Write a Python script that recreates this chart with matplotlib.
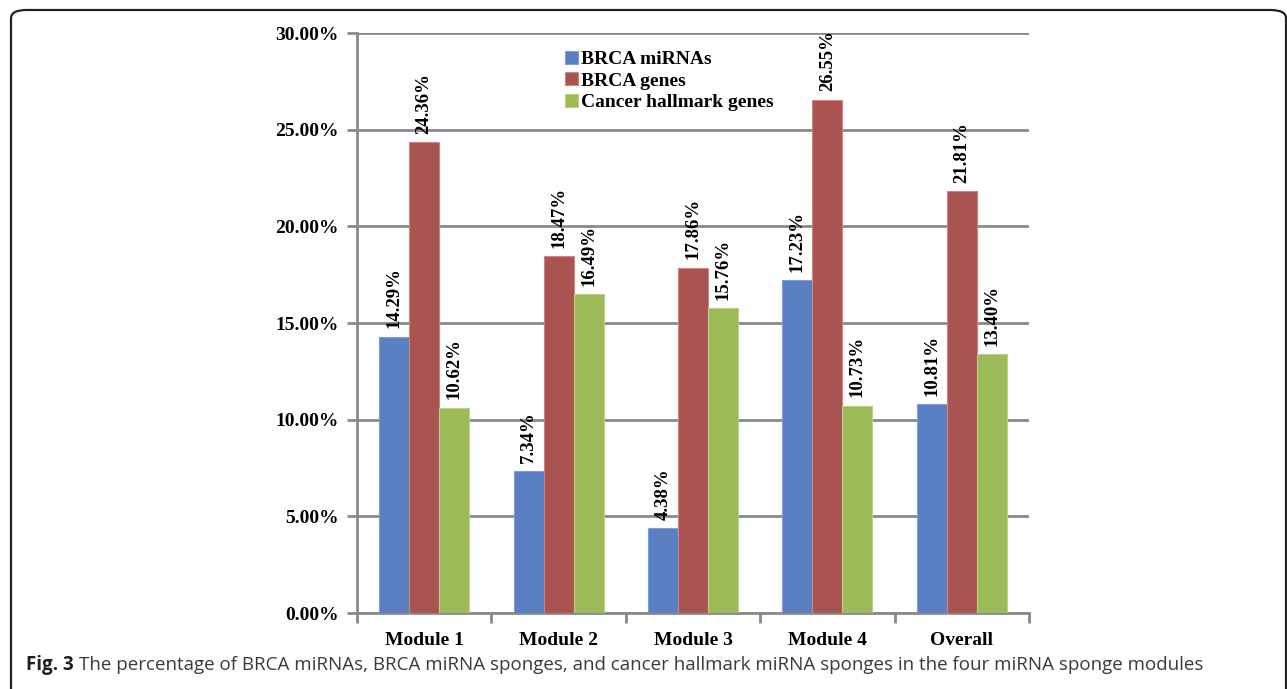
import numpy as np
import matplotlib.pyplot as plt
from matplotlib.patches import FancyBboxPatch
from matplotlib.ticker import FixedLocator, PercentFormatter

# percentages per module
modules = ["Module 1", "Module 2", "Module 3", "Module 4", "Overall"]
brca_mirnas = [14.29, 7.34, 4.38, 17.23, 10.81]
brca_genes = [24.36, 18.47, 17.86, 26.55, 21.81]
hallmark_genes = [10.62, 16.49, 15.76, 10.73, 13.40]
series_names = ["BRCA miRNAs", "BRCA genes", "Cancer hallmark genes"]
colors = ["#5B80C2", "#AA5452", "#9DBA59"]
edges = ["#7f9dd3", "#c98684", "#b9d183"]

serif = "Liberation Serif"
grid_col = "#8a8a8a"

fig = plt.figure(figsize=(12.87, 6.89), dpi=100)
ax = fig.add_axes([0.2774, 0.1103, 0.5221, 0.8418])

x = np.arange(len(modules))
w = 0.223
for k, (vals, name, c, ec) in enumerate(zip([brca_mirnas, brca_genes, hallmark_genes],
                                             series_names, colors, edges)):
    bars = ax.bar(x + (k - 1) * w, vals, w, color=c, edgecolor=ec, linewidth=0.8,
                  label=name, zorder=3)
    for b, v in zip(bars, vals):
        ax.annotate("%.2f%%" % v, (b.get_x() + b.get_width() / 2, v),
                    xytext=(0, 6), textcoords="offset points",
                    rotation=90, ha="center", va="bottom",
                    fontsize=13.5, fontweight="bold", family=serif, zorder=4)

ax.set_xlim(-0.5, len(modules) - 0.5)
ax.set_ylim(0, 30)
ax.set_yticks(np.arange(0, 31, 5))
ax.yaxis.set_major_formatter(PercentFormatter(decimals=2))
ax.grid(axis="y", color=grid_col, linewidth=2, zorder=0)

ax.set_xticks(x)
ax.set_xticklabels(modules)
ax.xaxis.set_minor_locator(FixedLocator(np.arange(-0.5, len(modules), 1)))
ax.tick_params(axis="x", which="major", length=0, pad=14)
ax.tick_params(axis="x", which="minor", length=7, width=2, color=grid_col)
ax.tick_params(axis="y", length=7, width=2, color=grid_col, pad=6)
for lab in ax.get_xticklabels() + ax.get_yticklabels():
    lab.set_family(serif)
    lab.set_fontweight("bold")
    lab.set_fontsize(14)

for s in ["top", "right"]:
    ax.spines[s].set_visible(False)
for s in ["left", "bottom"]:
    ax.spines[s].set_color(grid_col)
    ax.spines[s].set_linewidth(2)

leg = ax.legend(loc="upper left", bbox_to_anchor=(0.298, 0.983), frameon=False,
                handlelength=0.65, handleheight=0.65, handletextpad=0.15,
                labelspacing=0.22, borderaxespad=0,
                prop={"family": serif, "weight": "bold", "size": 14})

# rounded frame around the figure
frame = FancyBboxPatch((11 / 1287, -0.02), (1286 - 11) / 1287, 1.02 - 10 / 689,
                       boxstyle="round,pad=0,rounding_size=0.012",
                       transform=fig.transFigure, fill=False,
                       edgecolor="#222222", linewidth=1.6, clip_on=False)
fig.patches.append(frame)

# caption
cap_y = 1 - 670 / 689
t1 = fig.text(26 / 1287, cap_y, "Fig. 3", family="Open Sans", fontweight="bold",
              fontsize=13.5, color="#231f20", va="baseline")
fig.canvas.draw()
bb = t1.get_window_extent()
fig.text((bb.x1 + 5) / 1287, cap_y,
         "The percentage of BRCA miRNAs, BRCA miRNA sponges, and cancer hallmark miRNA sponges in the four miRNA sponge modules",
         family="Open Sans", fontsize=13.5, color="#3a3a3a", va="baseline")

fig.savefig("out.png", dpi=100)
